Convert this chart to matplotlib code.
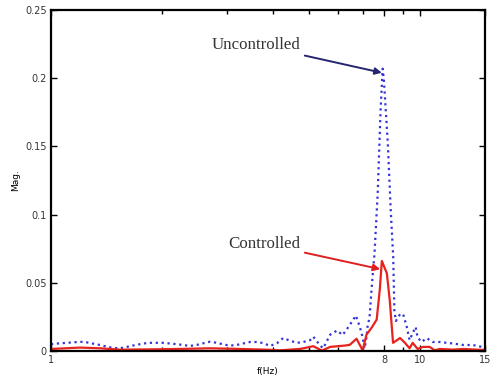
import numpy as np
import matplotlib
matplotlib.use("Agg")
import matplotlib.pyplot as plt
from matplotlib.ticker import FixedLocator, NullFormatter

# uncontrolled response (blue dotted)
f_unc = [1.0, 1.044, 1.105, 1.147, 1.198, 1.252, 1.300, 1.358, 1.418, 1.472,
         1.538, 1.606, 1.668, 1.743, 1.833, 1.937, 2.011, 2.101, 2.195, 2.279,
         2.380, 2.486, 2.581, 2.698, 2.817, 2.926, 3.057, 3.193, 3.316, 3.465,
         3.619, 3.758, 3.926, 4.100, 4.258, 4.448, 4.646, 4.825, 5.040, 5.136,
         5.364, 5.464, 5.71, 5.96, 6.17, 6.45, 6.70, 6.87, 6.99, 7.08,
         7.16, 7.21, 7.30, 7.39, 7.46, 7.53, 7.68, 7.82, 7.92, 7.98,
         8.18, 8.33, 8.46, 8.52, 8.60, 8.83, 9.0, 9.2, 9.37, 9.55,
         9.73, 9.85, 10.1, 10.42, 10.82, 11.3, 11.8, 12.29, 13.1, 13.9,
         14.7, 15.0]
mag_unc = [0.005, 0.0055, 0.006, 0.0063, 0.0068, 0.0063, 0.0054, 0.0044, 0.0032, 0.0022,
           0.002, 0.003, 0.004, 0.005, 0.006, 0.006, 0.006, 0.0055, 0.005, 0.0044,
           0.0037, 0.0045, 0.0056, 0.0068, 0.006, 0.0049, 0.0039, 0.0045, 0.0055, 0.0066,
           0.0066, 0.0058, 0.0037, 0.0058, 0.0095, 0.0075, 0.006, 0.0066, 0.008, 0.0105,
           0.004, 0.002, 0.012, 0.015, 0.0117, 0.019, 0.026, 0.0176, 0.010, 0.002,
           0.010, 0.018, 0.025, 0.045, 0.059, 0.072, 0.116, 0.177, 0.207, 0.199,
           0.152, 0.103, 0.069, 0.030, 0.022, 0.027, 0.027, 0.018, 0.008, 0.013,
           0.0176, 0.010, 0.0066, 0.0095, 0.0066, 0.0066, 0.006, 0.0055, 0.0044, 0.0044,
           0.003, 0.004]

# controlled response (red solid)
f_ctl = [1.0, 1.198, 1.358, 1.538, 1.854, 2.236, 2.698, 3.25, 3.8, 4.17,
         4.73, 5.14, 5.42, 5.71, 6.26, 6.45, 6.73, 6.99, 7.16, 7.39,
         7.63, 7.78, 7.88, 8.13, 8.28, 8.45, 8.83, 9.1, 9.37, 9.55,
         9.85, 10.18, 10.62, 10.96, 11.3, 12.29, 13.1, 14.7, 15.0]
mag_ctl = [0.0015, 0.0025, 0.002, 0.001, 0.0012, 0.0015, 0.002, 0.0015, 0.001, 0.0005,
           0.0015, 0.0035, 0.0003, 0.003, 0.004, 0.0045, 0.009, 0.0005, 0.012, 0.017,
           0.023, 0.045, 0.066, 0.057, 0.037, 0.006, 0.0095, 0.006, 0.002, 0.006,
           0.0015, 0.003, 0.003, 0.0005, 0.0015, 0.001, 0.0015, 0.0008, 0.001]

xticks = [1, 8, 10, 15]
xminor = [2, 3, 4, 5, 6, 7, 9]
yticks = [0, 0.05, 0.1, 0.15, 0.2, 0.25]
ytick_labels = ["0", "0.05", "0.1", "0.15", "0.2", "0.25"]

fig = plt.figure(figsize=(4.94, 3.75), dpi=100)
ax = fig.add_axes([0.1032, 0.064, 0.8786, 0.9093])

ax.plot(f_unc, mag_unc, linestyle=":", color="#3535d8", linewidth=1.6)
ax.plot(f_ctl, mag_ctl, linestyle="-", color="#e8231e", linewidth=1.6)

ax.set_xscale("log")
ax.set_xlim(1, 15)
ax.set_ylim(0, 0.25)
ax.xaxis.set_major_locator(FixedLocator(xticks))
ax.xaxis.set_minor_locator(FixedLocator(xminor))
ax.xaxis.set_minor_formatter(NullFormatter())
ax.set_xticklabels([str(t) for t in xticks])
ax.set_yticks(yticks)
ax.set_yticklabels(ytick_labels)

ax.tick_params(which="both", direction="in", top=True, right=True,
               labelsize=7, labelcolor="#333333", width=1.0)
ax.tick_params(which="major", length=4, pad=3)
ax.tick_params(which="minor", length=3)
for s in ax.spines.values():
    s.set_linewidth(1.6)

ax.set_xlabel("f(Hz)", fontsize=6.5, labelpad=1)
ax.set_ylabel("Mag.", fontsize=6.5, labelpad=4)

ax.annotate("Uncontrolled", xy=(7.88, 0.204), xytext=(4.75, 0.2245),
            ha="right", va="center", family="Liberation Serif", fontsize=12.2,
            color="#333333",
            arrowprops=dict(arrowstyle="-|>", color="#252570", lw=1.4,
                            mutation_scale=10, shrinkA=1, shrinkB=0))
ax.annotate("Controlled", xy=(7.8, 0.060), xytext=(4.75, 0.0785),
            ha="right", va="center", family="Liberation Serif", fontsize=12.2,
            color="#333333",
            arrowprops=dict(arrowstyle="-|>", color="#e02020", lw=1.4,
                            mutation_scale=10, shrinkA=1, shrinkB=0))

fig.savefig("out.png", dpi=100)
